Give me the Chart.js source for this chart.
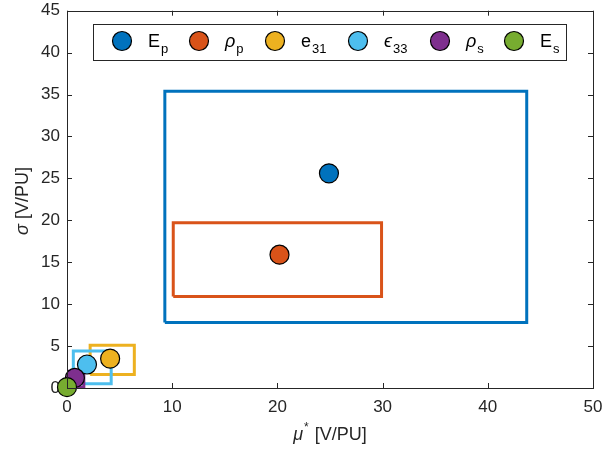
<!DOCTYPE html>
<html lang="en">
<head>
  <meta charset="UTF-8">
  <title>Sensitivity ranges</title>
  <script src="https://cdn.jsdelivr.net/npm/chart.js"></script>
  <style>
    html, body { margin: 0; padding: 0; background: #fff; }
    #wrap { width: 605px; height: 459px; }
  </style>
</head>
<body>
  <div id="wrap"><canvas id="sensChart" width="605" height="459"></canvas></div>

  <script>
    // parameter names (main text + subscript) and MATLAB default colours
    const paramNames   = ['E', 'ρ', 'e', 'ϵ', 'ρ', 'E'];
    const paramSubs    = ['p', 'p', '31', '33', 's', 's'];
    const paramItalic  = [false, true, false, true, true, false];
    const paramColors  = ['#0072BD', '#D95319', '#EDB120', '#4DBEEE', '#7E2F8E', '#77AC30'];

    // nominal point (mu*, sigma) per parameter
    const muStar = [24.9, 20.2, 4.1, 1.9, 0.75, 0.0];
    const sigma  = [25.6, 15.9, 3.5, 2.8, 1.2, 0.1];

    // spread boxes per parameter
    const muMin    = [9.3, 10.1, 2.2, 0.6, 0.15, 0.0];
    const muMax    = [43.7, 29.9, 6.4, 4.2, 1.6, 0.2];
    const sigmaMin = [7.8, 10.9, 1.6, 0.5, 0.1, 0.0];
    const sigmaMax = [35.4, 19.7, 5.1, 4.4, 2.0, 0.3];

    const xTicks = [0, 10, 20, 30, 40, 50];
    const yTicks = [0, 5, 10, 15, 20, 25, 30, 35, 40, 45];

    const axisColor = '#262626';
    const fontFam = '"Liberation Sans", Arial, sans-serif';

    const datasets = [];
    // markers: later parameters sit on top
    paramNames.forEach((n, i) => {
      datasets.push({
        label: n + paramSubs[i],
        data: [{ x: muStar[i], y: sigma[i] }],
        pointRadius: 9.5,
        pointHoverRadius: 9.5,
        pointBackgroundColor: paramColors[i],
        pointBorderColor: '#000',
        pointBorderWidth: 1.2,
        showLine: false,
        clip: false,
        order: paramNames.length - i
      });
    });
    // boxes
    paramNames.forEach((n, i) => {
      datasets.push({
        label: 'box ' + n + paramSubs[i],
        data: [
          { x: muMin[i], y: sigmaMin[i] },
          { x: muMax[i], y: sigmaMin[i] },
          { x: muMax[i], y: sigmaMax[i] },
          { x: muMin[i], y: sigmaMax[i] },
          { x: muMin[i], y: sigmaMin[i] }
        ],
        showLine: true,
        borderColor: paramColors[i],
        borderWidth: 3,
        pointRadius: 0,
        pointHoverRadius: 0,
        tension: 0,
        borderJoinStyle: 'miter',
        clip: false,
        order: 20 + (paramNames.length - i)
      });
    });

    // axes box, inward ticks, axis titles and legend in MATLAB style
    const matlabDecor = {
      id: 'matlabDecor',
      afterDatasetsDraw(chart) {
        const { ctx, chartArea: a, scales } = chart;
        ctx.save();
        ctx.strokeStyle = axisColor;
        ctx.lineWidth = 1;
        ctx.strokeRect(Math.round(a.left) + 0.5, Math.round(a.top) + 0.5,
          Math.round(a.right - a.left), Math.round(a.bottom - a.top));
        ctx.beginPath();
        xTicks.forEach(v => {
          const px = Math.round(scales.x.getPixelForValue(v)) + 0.5;
          ctx.moveTo(px, a.bottom); ctx.lineTo(px, a.bottom - 5);
          ctx.moveTo(px, a.top); ctx.lineTo(px, a.top + 5);
        });
        yTicks.forEach(v => {
          const py = Math.round(scales.y.getPixelForValue(v)) + 0.5;
          ctx.moveTo(a.left, py); ctx.lineTo(a.left + 5, py);
          ctx.moveTo(a.right, py); ctx.lineTo(a.right - 5, py);
        });
        ctx.stroke();

        // axis titles
        ctx.fillStyle = axisColor;
        ctx.textBaseline = 'alphabetic';
        ctx.font = 'italic 18px ' + fontFam;
        const muW = ctx.measureText('μ').width;
        ctx.font = '12px ' + fontFam;
        const starW = ctx.measureText('*').width;
        ctx.font = '18px ' + fontFam;
        const restW = ctx.measureText(' [V/PU]').width;
        let x0 = (a.left + a.right) / 2 - (muW + starW + 2 + restW) / 2;
        const by = 440;
        ctx.textAlign = 'left';
        ctx.font = 'italic 18px ' + fontFam;
        ctx.fillText('μ', x0, by);
        ctx.font = '12px ' + fontFam;
        ctx.fillText('*', x0 + muW + 1, by - 9);
        ctx.font = '18px ' + fontFam;
        ctx.fillText(' [V/PU]', x0 + muW + starW + 2, by);

        ctx.save();
        ctx.translate(28, 201);
        ctx.rotate(-Math.PI / 2);
        ctx.font = 'italic 18px ' + fontFam;
        const sW = ctx.measureText('σ').width;
        ctx.font = '18px ' + fontFam;
        const vW = ctx.measureText(' [V/PU]').width;
        let sx = -(sW + vW) / 2;
        ctx.font = 'italic 18px ' + fontFam;
        ctx.fillText('σ', sx, 0);
        ctx.font = '18px ' + fontFam;
        ctx.fillText(' [V/PU]', sx + sW, 0);
        ctx.restore();

        // legend
        const lx = 93, ly = 24, lw = 473, lh = 36;
        ctx.fillStyle = '#fff';
        ctx.fillRect(lx, ly, lw, lh);
        ctx.strokeStyle = axisColor;
        ctx.strokeRect(lx + 0.5, ly + 0.5, lw, lh);
        const markX = [122, 199, 275, 358, 440, 514];
        const cy = 41;
        paramNames.forEach((n, i) => {
          ctx.beginPath();
          ctx.arc(markX[i], cy, 9.5, 0, Math.PI * 2);
          ctx.fillStyle = paramColors[i];
          ctx.fill();
          ctx.lineWidth = 1.2;
          ctx.strokeStyle = '#000';
          ctx.stroke();
          ctx.fillStyle = '#000';
          const tx = markX[i] + 26;
          ctx.font = (paramItalic[i] ? 'italic ' : '') + '18px ' + fontFam;
          ctx.fillText(n, tx, cy + 6);
          const w = ctx.measureText(n).width;
          ctx.font = '13px ' + fontFam;
          ctx.fillText(paramSubs[i], tx + w + 1, cy + 12);
        });
        ctx.restore();
      }
    };

    // kill the automatic label overhang so the plot box sits where MATLAB put it
    function noPad(s) {
      s.paddingLeft = 0; s.paddingRight = 0; s.paddingTop = 0; s.paddingBottom = 0;
    }

    const ctx = document.getElementById('sensChart').getContext('2d');
    new Chart(ctx, {
      type: 'scatter',
      data: { datasets },
      options: {
        responsive: false,
        animation: false,
        layout: { padding: { left: 0, right: 12, top: 8, bottom: 0 } },
        plugins: { legend: { display: false }, tooltip: { enabled: false } },
        scales: {
          x: {
            type: 'linear', min: 0, max: 50,
            afterBuildTicks: s => { s.ticks = xTicks.map(v => ({ value: v })); },
            afterFit: s => { s.height = 71; noPad(s); },
            grid: { display: false, drawTicks: false },
            border: { display: false },
            ticks: { color: axisColor, padding: 9, font: { family: fontFam, size: 17 } }
          },
          y: {
            type: 'linear', min: 0, max: 45,
            afterBuildTicks: s => { s.ticks = yTicks.map(v => ({ value: v })); },
            afterFit: s => { s.width = 67; noPad(s); },
            grid: { display: false, drawTicks: false },
            border: { display: false },
            ticks: { color: axisColor, padding: 7, font: { family: fontFam, size: 17 } }
          }
        }
      },
      plugins: [matlabDecor]
    });
  </script>
</body>
</html>
